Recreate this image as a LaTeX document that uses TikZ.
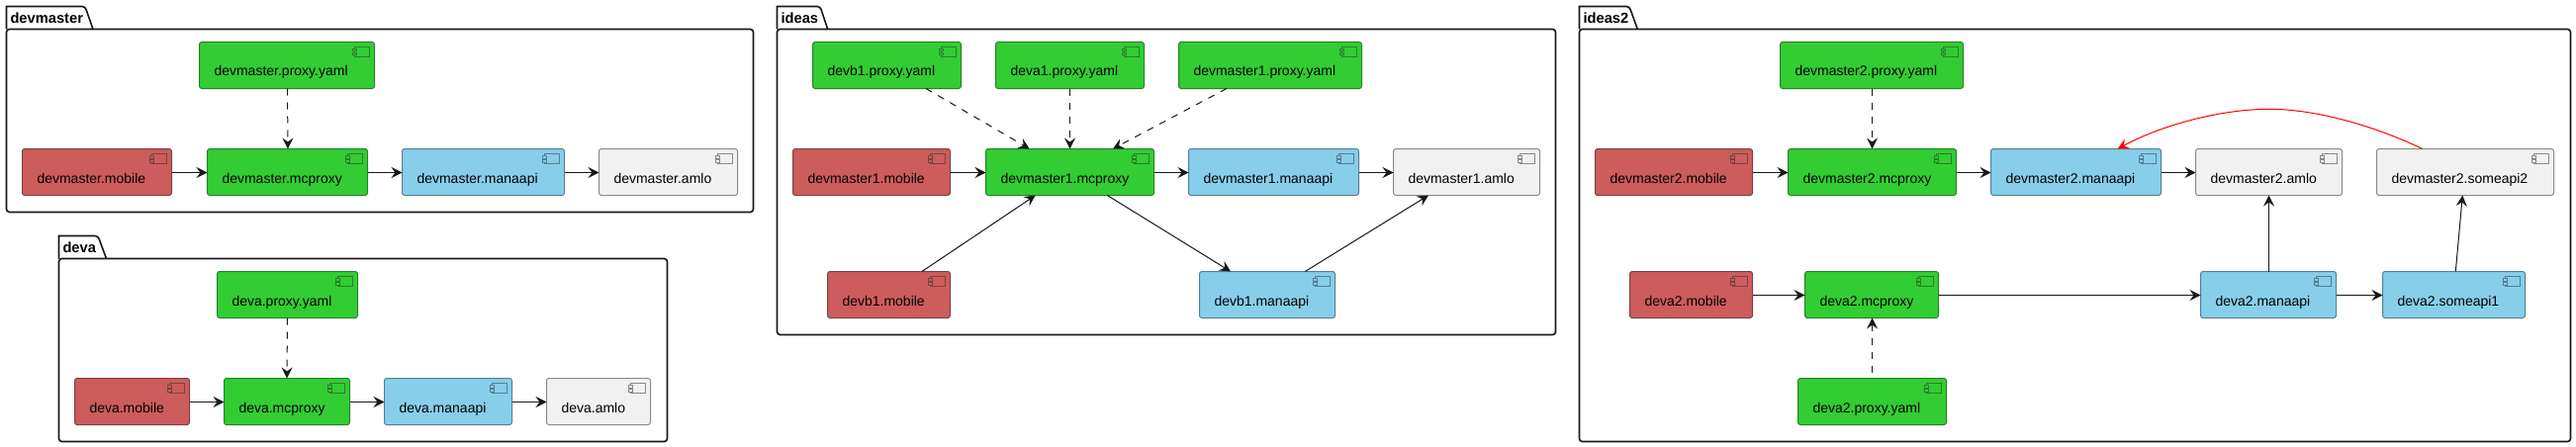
\documentclass[tikz,border=0pt]{standalone}
\usepackage{fontspec}
\setmainfont{Liberation Sans}
\usetikzlibrary{arrows.meta}
\definecolor{lime}{HTML}{32CD32}
\definecolor{indian}{HTML}{CD5C5C}
\definecolor{skyb}{HTML}{87CEEB}
\definecolor{paleg}{HTML}{F1F1F1}
\definecolor{limeb}{HTML}{2A7F2A}
\definecolor{indianb}{HTML}{7A4343}
\definecolor{skybb}{HTML}{557F92}
\definecolor{palegb}{HTML}{8A8A8A}
\definecolor{ink}{HTML}{181818}
\tikzset{
  compbox/.style={rectangle,rounded corners=2.5pt,line width=1pt,inner xsep=15pt,inner ysep=0pt,outer sep=0pt,
    text height=34.5pt,text depth=12.5pt,align=left,font=\fontsize{14}{16}\selectfont,text=black},
  greenbox/.style={compbox,fill=lime,draw=limeb},
  redbox/.style={compbox,fill=indian,draw=indianb},
  bluebox/.style={compbox,fill=skyb,draw=skybb},
  greybox/.style={compbox,fill=paleg,draw=palegb},
  flow/.style={line width=1pt,draw=ink,-{Stealth[length=11pt,width=11pt,inset=4pt,color=ink]}},
  dep/.style={line width=1pt,draw=ink,dash pattern=on 7pt off 7pt,-{Stealth[length=11pt,width=11pt,inset=4pt,color=ink]}},
  depphase/.style={dep,dash phase=8.2pt},
  redflow/.style={line width=1pt,draw=red,-{Stealth[length=11pt,width=11pt,inset=4pt,color=red]}},
  pkgline/.style={line width=1.6pt,draw=ink,rounded corners=3pt},
  pkgname/.style={anchor=base west,inner sep=0pt,outer sep=0pt,font=\fontsize{14.7}{16}\selectfont\bfseries,text=black},
}
% name, x1, x2, top, style, colour, text
\newcommand{\comp}[7]{%
  \pgfmathsetmacro{\cw}{#3-#2}%
  \pgfmathsetmacro{\cx}{(#3+#2)/2}%
  \pgfmathsetmacro{\cy}{#4+23.5}%
  \pgfmathsetmacro{\tw}{#3-#2-30}%
  \node[#5,text width=\tw pt] (#1) at (\cx,\cy) {#7};
  \draw[line width=1pt,draw=#6] ([xshift=-20pt,yshift=-5pt]#1.north east) rectangle ([xshift=-5pt,yshift=-15pt]#1.north east);
  \draw[line width=1pt,draw=#6,fill=#5fill] ([xshift=-22pt,yshift=-7pt]#1.north east) rectangle ([xshift=-18pt,yshift=-9.5pt]#1.north east);
  \draw[line width=1pt,draw=#6,fill=#5fill] ([xshift=-22pt,yshift=-11pt]#1.north east) rectangle ([xshift=-18pt,yshift=-13.5pt]#1.north east);
}
\colorlet{greenboxfill}{lime}
\colorlet{redboxfill}{indian}
\colorlet{blueboxfill}{skyb}
\colorlet{greyboxfill}{paleg}
% name, x1, x2, tab top, body top, bottom, t1, t2, label
\newcommand{\pkg}[9]{%
  \draw[pkgline] (#2,#5) [sharp corners] -- (#2,#4) [rounded corners=3pt] -- (#7,#4) [sharp corners] -- (#8,#5) [rounded corners=3pt] -- (#3,#5) -- (#3,#6) -- (#2,#6) -- (#2,#5) [sharp corners] -- (#8,#5);
  \pgfmathsetmacro{\lx}{#2+4}%
  \pgfmathsetmacro{\ly}{#4+16.7}%
  \node[pkgname] (#1) at (\lx,\ly) {#9};
}
\newcommand{\hflow}[3][flow]{\draw[#1] ([yshift=-.5pt]#2.east) -- ([yshift=-.5pt]#3.west);}
\begin{document}
\begin{tikzpicture}[x=1pt,y=-1pt]
\useasboundingbox (0,0) rectangle (2604,452);
\fill[white] (0,0) rectangle (2604,452);

% devmaster
\pkg{pdevmaster}{6.5}{761.5}{6.5}{29.5}{214.5}{86}{94}{devmaster}
\comp{dmyaml}{201.5}{378.5}{42.5}{greenbox}{limeb}{devmaster.proxy.yaml}
\comp{dmmobile}{22.5}{173.5}{150.5}{redbox}{indianb}{devmaster.mobile}
\comp{dmproxy}{209.5}{371.5}{150.5}{greenbox}{limeb}{devmaster.mcproxy}
\comp{dmapi}{406.5}{570.5}{150.5}{bluebox}{skybb}{devmaster.manaapi}
\comp{dmamlo}{605.5}{745.5}{150.5}{greybox}{palegb}{devmaster.amlo}
\draw[dep] ([xshift=.5pt]dmyaml.south) -- ([xshift=.5pt]dmproxy.north);
\hflow{dmmobile}{dmproxy}
\hflow{dmproxy}{dmapi}
\hflow{dmapi}{dmamlo}

% deva
\pkg{pdeva}{59.5}{674.5}{238.5}{261.5}{446.5}{99}{107.5}{deva}
\comp{dayaml}{219.5}{361.5}{274.5}{greenbox}{limeb}{deva.proxy.yaml}
\comp{damobile}{75.5}{191.5}{382.5}{redbox}{indianb}{deva.mobile}
\comp{daproxy}{226.5}{353.5}{382.5}{greenbox}{limeb}{deva.mcproxy}
\comp{daapi}{388.5}{517.5}{382.5}{bluebox}{skybb}{deva.manaapi}
\comp{daamlo}{552.5}{657.5}{382.5}{greybox}{palegb}{deva.amlo}
\draw[dep] (dayaml.south) -- (daproxy.north);
\hflow{damobile}{daproxy}
\hflow{daproxy}{daapi}
\hflow{daapi}{daamlo}

% ideas
\pkg{pideas}{785.5}{1572.5}{6.5}{29.5}{338.5}{829}{836.7}{ideas}
\comp{baoneyaml}{821.5}{971.5}{42.5}{greenbox}{limeb}{devb1.proxy.yaml}
\comp{aoneyaml}{1006.5}{1156.5}{42.5}{greenbox}{limeb}{deva1.proxy.yaml}
\comp{moneyaml}{1191.5}{1376.5}{42.5}{greenbox}{limeb}{devmaster1.proxy.yaml}
\comp{monemobile}{801.5}{960.5}{150.5}{redbox}{indianb}{devmaster1.mobile}
\comp{moneproxy}{996.5}{1166.5}{150.5}{greenbox}{limeb}{devmaster1.mcproxy}
\comp{moneapi}{1201.5}{1373.5}{150.5}{bluebox}{skybb}{devmaster1.manaapi}
\comp{moneamlo}{1408.5}{1556.5}{150.5}{greybox}{palegb}{devmaster1.amlo}
\comp{bonemobile}{836.5}{960.5}{274.5}{redbox}{indianb}{devb1.mobile}
\comp{boneapi}{1212.5}{1349.5}{274.5}{bluebox}{skybb}{devb1.manaapi}
\draw[dep] ([xshift=114.5pt]baoneyaml.south west) -- ([xshift=44.2pt]moneproxy.north west);
\draw[dep] (aoneyaml.south) -- (moneproxy.north);
\draw[dep] ([xshift=48.5pt]moneyaml.south west) -- ([xshift=128.5pt]moneproxy.north west);
\hflow{monemobile}{moneproxy}
\hflow{moneproxy}{moneapi}
\hflow{moneapi}{moneamlo}
\draw[flow] ([xshift=95.5pt]bonemobile.north west) -- ([xshift=50.2pt]moneproxy.south west);
\draw[flow] ([xshift=122.8pt]moneproxy.south west) -- ([xshift=31.5pt]boneapi.north west);
\draw[flow] ([xshift=106.8pt]boneapi.north west) -- ([xshift=35.5pt]moneamlo.south west);

% ideas2
\pkg{pideastwo}{1596.5}{2598.5}{6.5}{29.5}{446.5}{1647}{1655.3}{ideas2}
\comp{mtwoyaml}{1799.5}{1984.5}{42.5}{greenbox}{limeb}{devmaster2.proxy.yaml}
\comp{mtwomobile}{1612.5}{1771.5}{150.5}{redbox}{indianb}{devmaster2.mobile}
\comp{mtwoproxy}{1807.5}{1977.5}{150.5}{greenbox}{limeb}{devmaster2.mcproxy}
\comp{mtwoapi}{2012.5}{2184.5}{150.5}{bluebox}{skybb}{devmaster2.manaapi}
\comp{mtwoamlo}{2219.5}{2367.5}{150.5}{greybox}{palegb}{devmaster2.amlo}
\comp{mtwosome}{2402.5}{2581.5}{150.5}{greybox}{palegb}{devmaster2.someapi2}
\comp{atwomobile}{1647.5}{1771.5}{274.5}{redbox}{indianb}{deva2.mobile}
\comp{atwoproxy}{1824.5}{1959.5}{274.5}{greenbox}{limeb}{deva2.mcproxy}
\comp{atwoapi}{2224.5}{2361.5}{274.5}{bluebox}{skybb}{deva2.manaapi}
\comp{atwosome}{2408.5}{2552.5}{274.5}{bluebox}{skybb}{deva2.someapi1}
\comp{atwoyaml}{1817.5}{1967.5}{382.5}{greenbox}{limeb}{deva2.proxy.yaml}
\draw[dep] ([xshift=.5pt]mtwoyaml.south) -- (mtwoproxy.north);
\draw[depphase] (atwoyaml.north) -- ([xshift=.5pt]atwoproxy.south);
\hflow{mtwomobile}{mtwoproxy}
\hflow{mtwoproxy}{mtwoapi}
\hflow{mtwoapi}{mtwoamlo}
\hflow{atwomobile}{atwoproxy}
\hflow{atwoproxy}{atwoapi}
\hflow{atwoapi}{atwosome}
\draw[flow] ([xshift=.5pt]atwoapi.north) -- (mtwoamlo.south);
\draw[flow] ([xshift=73.8pt]atwosome.north west) -- ([xshift=86.8pt]mtwosome.south west);
\draw[redflow] ([xshift=46.2pt]mtwosome.north west) .. controls (2400,127) and (2340,110.3) .. (2294,110.3) .. controls (2248,110.3) and (2188,125) .. ([xshift=128.2pt]mtwoapi.north west);
\end{tikzpicture}
\end{document}
